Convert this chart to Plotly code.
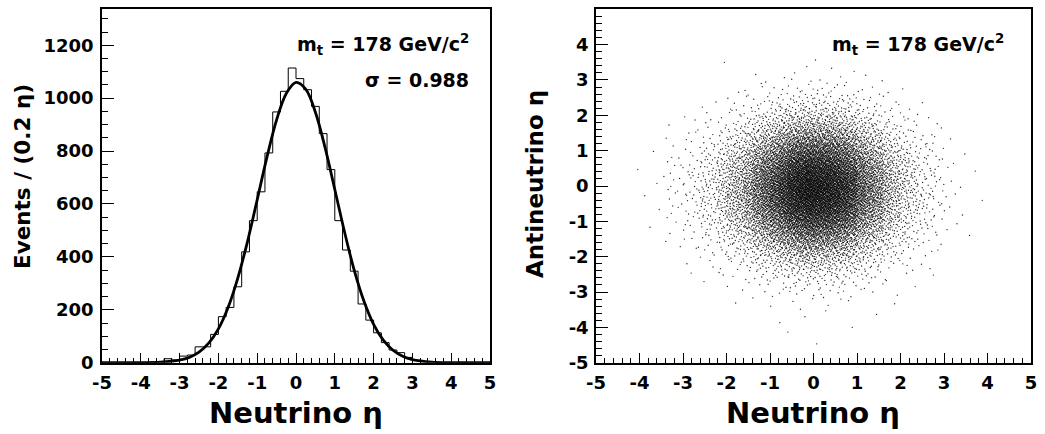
import numpy as np
import plotly.graph_objects as go

W, H = 1045, 434

# ---------------- data ----------------
# Neutrino eta histogram: 50 bins of width 0.2 from -5 to 5
bin_lo, bin_hi = -5.0, 5.0
hist_counts = [0, 0, 0, 0, 1, 1, 2, 3, 15, 10,
               25, 29, 60, 60, 107, 174, 209, 287, 419, 537,
               646, 793, 948, 1026, 1114, 1074, 1032, 969, 866, 730,
               537, 426, 346, 222, 161, 113, 76, 48, 38, 20,
               8, 4, 3, 1, 1, 0, 1, 0, 0, 0]

# Gaussian fit curve
fit_x = [-5.0, -4.5, -4.0, -3.5, -3.0, -2.75, -2.5, -2.25, -2.0, -1.75, -1.5, -1.25,
         -1.0, -0.75, -0.5, -0.25, 0.0, 0.25, 0.5, 0.75, 1.0, 1.25, 1.5, 1.75,
         2.0, 2.25, 2.5, 2.75, 3.0, 3.5, 4.0, 4.5, 5.0]
fit_y = [0, 0, 0.3, 1.8, 9.6, 20, 40, 74, 128, 209, 320, 458,
         616, 776, 918, 1018, 1060, 1034, 947, 813, 655, 495, 350, 233,
         145, 85, 47, 24, 11.6, 2.2, 0.3, 0, 0]

# Antineutrino eta distribution (estimated from the scatter, 0.2-wide bands)
anti_lo, anti_hi = -5.0, 5.0
anti_counts = [0, 0, 1, 0, 1, 1, 2, 3, 6, 12,
               21, 36, 59, 93, 142, 207, 291, 393, 510, 636,
               761, 875, 967, 1027, 1048, 1027, 967, 875, 761, 636,
               510, 393, 291, 207, 142, 93, 59, 36, 21, 12,
               6, 3, 2, 1, 0, 0, 0, 0, 0, 0]

# tick labels
eta_ticks = [-5, -4, -3, -2, -1, 0, 1, 2, 3, 4, 5]
eta_labels = ["-5", "-4", "-3", "-2", "-1", "0", "1", "2", "3", "4", "5"]
count_ticks = [0, 200, 400, 600, 800, 1000, 1200]
count_labels = ["0", "200", "400", "600", "800", "1000", "1200"]

mass_label = "m<sub>t</sub> = 178 GeV/c<sup>2</sup>"
sigma_label = "σ = 0.988"
x_title = "Neutrino η"
y_title_left = "Events / (0.2 η)"
y_title_right = "Antineutrino η"

# ---------------- derived ----------------
edges = np.linspace(bin_lo, bin_hi, len(hist_counts) + 1)
anti_edges = np.linspace(anti_lo, anti_hi, len(anti_counts) + 1)


def halton(n, base):
    out = np.zeros(n)
    f = 1.0
    i = np.arange(1, n + 1)
    while np.any(i > 0):
        f /= base
        out += f * (i % base)
        i //= base
    return out


# scatter: events distributed following the two read distributions,
# placed with a deterministic low-discrepancy (Halton) sequence
n_evt = int(sum(hist_counts))
u = halton(n_evt + 20, 2)[20:]
v = halton(n_evt + 20, 3)[20:]
cx = np.concatenate([[0], np.cumsum(hist_counts)]) / float(sum(hist_counts))
cy = np.concatenate([[0], np.cumsum(anti_counts)]) / float(sum(anti_counts))
sx = np.interp(u, cx, edges)
sy = np.interp(v, cy, anti_edges)


def px(xp):
    return xp / W


def py(yp):
    return 1 - yp / H


FONT = "DejaVu Sans"
TICKFONT = dict(family=FONT, size=18, color="black", weight="bold")

fig = go.Figure()

fig.add_trace(go.Scatter(
    x=list(edges), y=list(hist_counts) + [hist_counts[-1]],
    mode="lines", line=dict(shape="hv", color="black", width=1),
    xaxis="x", yaxis="y", hoverinfo="skip"))

fig.add_trace(go.Scatter(
    x=fit_x, y=fit_y, mode="lines",
    line=dict(shape="spline", color="black", width=2.8),
    xaxis="x", yaxis="y", hoverinfo="skip"))

fig.add_trace(go.Scatter(
    x=sx, y=sy, mode="markers",
    marker=dict(size=1.35, color="black", opacity=0.85, line=dict(width=0)),
    xaxis="x2", yaxis="y2", hoverinfo="skip"))


def axis_style():
    return dict(showline=True, linecolor="black", linewidth=1.5, mirror=True,
                ticks="inside", tickcolor="black", tickwidth=1, automargin=False,
                showgrid=False, zeroline=False, fixedrange=True,
                tickfont=dict(TICKFONT))


ydom = [py(362.7), py(9.3)]

fig.update_layout(
    template="none",
    font=dict(family=FONT, size=18, color="black", weight="bold"),
    width=W, height=H, margin=dict(l=0, r=0, t=0, b=0, pad=0),
    paper_bgcolor="white", plot_bgcolor="white", showlegend=False,
    xaxis=dict(domain=[px(102), px(490)], range=[-5, 5], anchor="y",
               tickvals=eta_ticks, ticktext=eta_labels, ticklen=10, ticklabelstandoff=3,
               minor=dict(ticks="inside", ticklen=5, dtick=0.2, tick0=0, tickcolor="black", tickwidth=1),
               **axis_style()),
    yaxis=dict(domain=ydom, range=[0, 1336], anchor="x",
               tickvals=count_ticks, ticktext=count_labels, ticklen=12, ticklabelstandoff=3,
               minor=dict(ticks="inside", ticklen=6, dtick=50, tick0=0, tickcolor="black", tickwidth=1),
               **axis_style()),
    xaxis2=dict(domain=[px(596), px(1031)], range=[-5, 5], anchor="y2",
                tickvals=eta_ticks, ticktext=eta_labels, ticklen=10, ticklabelstandoff=3,
                minor=dict(ticks="inside", ticklen=5, dtick=0.2, tick0=0, tickcolor="black", tickwidth=1),
                **axis_style()),
    yaxis2=dict(domain=ydom, range=[-5, 5], anchor="x2",
                tickvals=eta_ticks, ticktext=eta_labels, ticklen=12, ticklabelstandoff=2,
                minor=dict(ticks="inside", ticklen=6, dtick=0.2, tick0=0, tickcolor="black", tickwidth=1),
                **axis_style()),
)

ann_font = dict(family=FONT, size=19, color="black", weight="bold")
title_font = dict(family=FONT, size=29, color="black", weight="bold")

annotations = [
    dict(text=mass_label, x=px(471), y=py(44), xanchor="right", yanchor="middle", font=ann_font),
    dict(text=sigma_label, x=px(471), y=py(80), xanchor="right", yanchor="middle", font=ann_font),
    dict(text=mass_label, x=px(1006), y=py(45), xanchor="right", yanchor="middle", font=ann_font),
    dict(text=x_title, x=px(296), y=py(413), xanchor="center", yanchor="middle", font=title_font),
    dict(text=x_title, x=px(813), y=py(413), xanchor="center", yanchor="middle", font=title_font),
    dict(text=y_title_left, x=px(23), y=py(177), xanchor="center", yanchor="middle",
         textangle=-90, font=dict(family=FONT, size=21.5, color="black", weight="bold")),
    dict(text=y_title_right, x=px(535), y=py(184), xanchor="center", yanchor="middle",
         textangle=-90, font=dict(family=FONT, size=23, color="black", weight="bold")),
]
for a in annotations:
    a.update(xref="paper", yref="paper", showarrow=False)
fig.update_layout(annotations=annotations)

fig.write_html("out.html", config={"displayModeBar": False},
               post_script="document.body.style.margin='0px';")
